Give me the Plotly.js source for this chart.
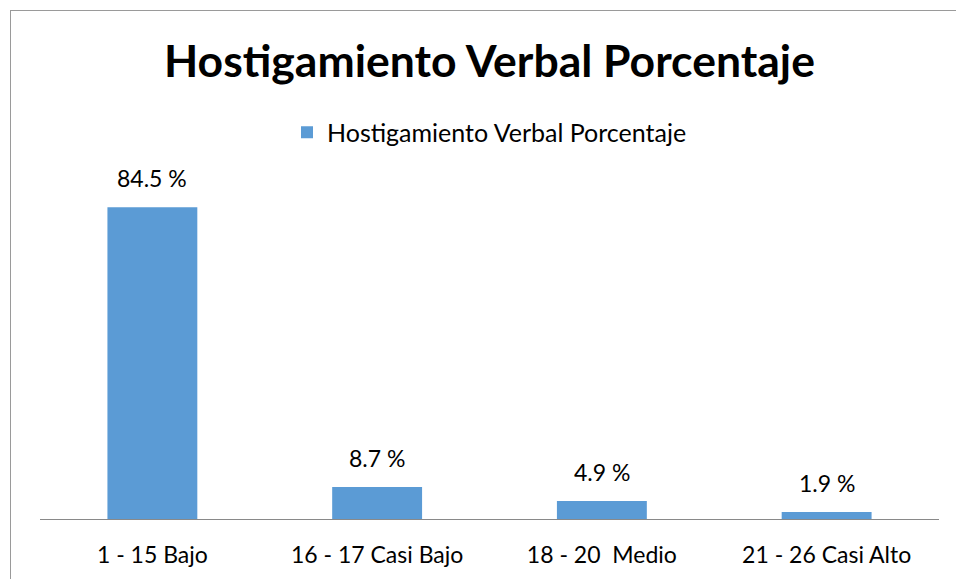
<!DOCTYPE html>
<html>
<head>
<meta charset="utf-8">
<script src="https://cdn.plot.ly/plotly-3.0.1.min.js"></script>
<style>
  html, body { margin: 0; padding: 0; background: #fff; }
  #wrap { position: relative; width: 956px; height: 579px; overflow: hidden; }
  #chart { position: absolute; left: 0; top: 0; width: 956px; height: 579px; }
  #frame { position: absolute; left: 10px; top: 10px; width: 2000px; height: 2000px;
           border-left: 1.5px solid #9a9a9a; border-top: 1.5px solid #9a9a9a; pointer-events: none; }
</style>
</head>
<body>
<div id="wrap">
  <div id="chart"></div>
  <div id="frame"></div>
</div>
<script>
const categories = ["1 - 15 Bajo", "16 - 17 Casi Bajo", "18 - 20  Medio", "21 - 26 Casi Alto"];
const percentages = [84.5, 8.7, 4.9, 1.9];
const seriesName = "Hostigamiento Verbal Porcentaje";
const chartTitle = "Hostigamiento Verbal Porcentaje";

const FONT = "Lato, 'Open Sans', sans-serif";

const trace = {
  type: "bar",
  x: categories,
  y: percentages,
  name: seriesName,
  marker: { color: "#5B9BD5" },
  width: 0.4,
  hoverinfo: "skip",
  showlegend: true
};

const annotations = categories.map((c, i) => ({
  x: c,
  y: percentages[i],
  xref: "x",
  yref: "y",
  text: percentages[i].toFixed(1) + " %",
  showarrow: false,
  yanchor: "middle",
  yshift: 29,
  font: { family: FONT, size: 23, color: "#000" }
}));

const layout = {
  width: 956,
  height: 579,
  paper_bgcolor: "#fff",
  plot_bgcolor: "#fff",
  margin: { l: 39.5, r: 16.5, t: 187, b: 60 },
  title: {
    text: "<b>" + chartTitle + "</b>",
    xref: "container", yref: "container",
    x: 0.512, xanchor: "center",
    y: 0.8946, yanchor: "middle",
    font: { family: FONT, size: 44.5, color: "#000" }
  },
  showlegend: true,
  legend: {
    orientation: "h",
    xref: "container", yref: "container",
    x: 287 / 956, xanchor: "left",
    y: 0.771, yanchor: "middle",
    font: { family: FONT, size: 25, color: "#000" },
    itemclick: false, itemdoubleclick: false
  },
  xaxis: {
    type: "category",
    showgrid: false,
    showline: true,
    linecolor: "#898989",
    linewidth: 1.2,
    ticks: "",
    ticklabelstandoff: 15,
    tickfont: { family: FONT, size: 23, color: "#000" },
    fixedrange: true
  },
  yaxis: {
    range: [0, 90],
    showgrid: false,
    showline: false,
    showticklabels: false,
    zeroline: false,
    ticks: "",
    fixedrange: true
  },
  bargap: 0.6,
  annotations: annotations
};

Plotly.newPlot("chart", [trace], layout, { displayModeBar: false, staticPlot: true });
</script>
</body>
</html>
